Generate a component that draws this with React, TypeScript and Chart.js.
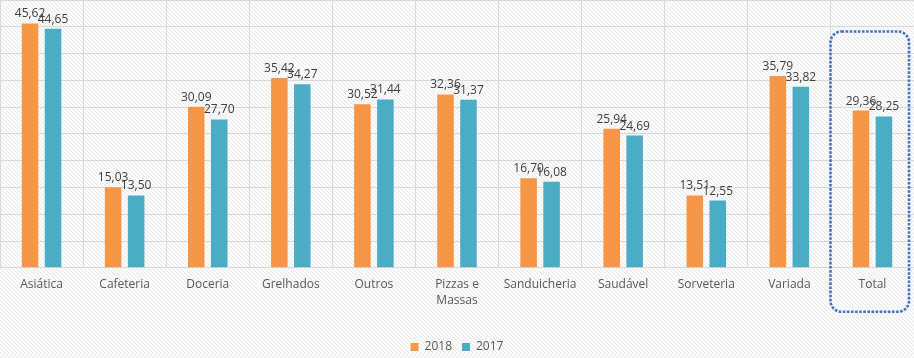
import React, { useEffect, useRef } from "react";
import { Chart, registerables } from "chart.js";

Chart.register(...registerables);

const categories: (string | string[])[] = [
  "Asiática",
  "Cafeteria",
  "Doceria",
  "Grelhados",
  "Outros",
  ["Pizzas e", "Massas"],
  "Sanduicheria",
  "Saudável",
  "Sorveteria",
  "Variada",
  "Total",
];
const series2018 = [45.62, 15.03, 30.09, 35.42, 30.52, 32.36, 16.7, 25.94, 13.51, 35.79, 29.36];
const series2017 = [44.65, 13.5, 27.7, 34.27, 31.44, 31.37, 16.08, 24.69, 12.55, 33.82, 28.25];
const seriesNames = ["2018", "2017"];
const highlightIndex = 10;

const FONT = "'Open Sans', 'Noto Sans', sans-serif";

const bgPlugin = {
  id: "hatchBg",
  beforeDraw(chart: any) {
    const ctx = chart.ctx;
    const p = document.createElement("canvas");
    p.width = 4;
    p.height = 4;
    const pc = p.getContext("2d")!;
    pc.fillStyle = "#fbfbfb";
    pc.fillRect(0, 0, 4, 4);
    pc.fillStyle = "#e9e9e9";
    for (let i = 0; i < 4; i++) pc.fillRect(i, i, 1, 1);
    const pat = ctx.createPattern(p, "repeat");
    ctx.save();
    ctx.fillStyle = pat;
    ctx.fillRect(0, 0, chart.width, chart.height);
    ctx.restore();
  },
};

const labelPlugin = {
  id: "valueLabels",
  afterDatasetsDraw(chart: any) {
    const ctx = chart.ctx;
    ctx.save();
    ctx.font = `12px ${FONT}`;
    ctx.fillStyle = "#404040";
    ctx.textAlign = "center";
    ctx.textBaseline = "alphabetic";
    chart.data.datasets.forEach((ds: any, di: number) => {
      const meta = chart.getDatasetMeta(di);
      meta.data.forEach((el: any, i: number) => {
        const v = ds.data[i] as number;
        ctx.fillText(v.toFixed(2).replace(".", ","), el.x, el.y - 6);
      });
    });
    ctx.restore();
  },
};

const highlightPlugin = {
  id: "highlightBox",
  afterDraw(chart: any) {
    const xs = chart.scales.x;
    const area = chart.chartArea;
    const c = xs.getPixelForValue(highlightIndex);
    const w = xs.getPixelForValue(1) - xs.getPixelForValue(0);
    const left = c - 0.505 * w;
    const right = c + 0.44 * w;
    const top = area.top + 31.5;
    const bottom = area.bottom + 44;
    const r = 11;
    const ctx = chart.ctx;
    ctx.save();
    ctx.strokeStyle = "#4472C4";
    ctx.lineWidth = 2.6;
    ctx.setLineDash([2.6, 1.5]);
    ctx.beginPath();
    ctx.moveTo(left + r, top);
    ctx.lineTo(right - r, top);
    ctx.arcTo(right, top, right, top + r, r);
    ctx.lineTo(right, bottom - r);
    ctx.arcTo(right, bottom, right - r, bottom, r);
    ctx.lineTo(left + r, bottom);
    ctx.arcTo(left, bottom, left, bottom - r, r);
    ctx.lineTo(left, top + r);
    ctx.arcTo(left, top, left + r, top, r);
    ctx.closePath();
    ctx.stroke();
    ctx.restore();
  },
};

export default function App() {
  const ref = useRef<HTMLCanvasElement>(null);
  useEffect(() => {
    document.body.style.margin = "0";
    const chart = new Chart(ref.current!, {
      type: "bar",
      data: {
        labels: categories,
        datasets: [
          {
            label: seriesNames[0],
            data: series2018,
            backgroundColor: "#F79646",
            categoryPercentage: 0.553,
            barPercentage: 0.72,
          },
          {
            label: seriesNames[1],
            data: series2017,
            backgroundColor: "#4BACC6",
            categoryPercentage: 0.553,
            barPercentage: 0.72,
          },
        ],
      },
      options: {
        animation: false,
        responsive: false,
        maintainAspectRatio: false,
        devicePixelRatio: 1,
        layout: { padding: { left: 0, right: 0, top: 0, bottom: -5 } },
        plugins: {
          tooltip: { enabled: false },
          legend: {
            position: "bottom",
            labels: {
              boxWidth: 8,
              boxHeight: 8,
              padding: 10,
              color: "#595959",
              font: { family: FONT, size: 12 },
            },
          },
        },
        scales: {
          x: {
            offset: true,
            grid: { display: true, offset: true, color: "#d9d9d9", drawTicks: false },
            border: { display: false },
            ticks: {
              color: "#595959",
              font: { family: FONT, size: 12, lineHeight: 1.3 },
              padding: 9,
              maxRotation: 0,
              autoSkip: false,
            },
            afterFit(scale: any) {
              scale.height += 14;
            },
          },
          y: {
            min: 0,
            max: 50,
            grid: { color: "#d9d9d9", drawTicks: false, tickLength: 0 },
            border: { display: false },
            ticks: { display: false, stepSize: 5 },
          },
        },
      },
      plugins: [bgPlugin, labelPlugin, highlightPlugin],
    });
    return () => chart.destroy();
  }, []);
  return <canvas ref={ref} width={914} height={358} style={{ display: "block" }} />;
}
